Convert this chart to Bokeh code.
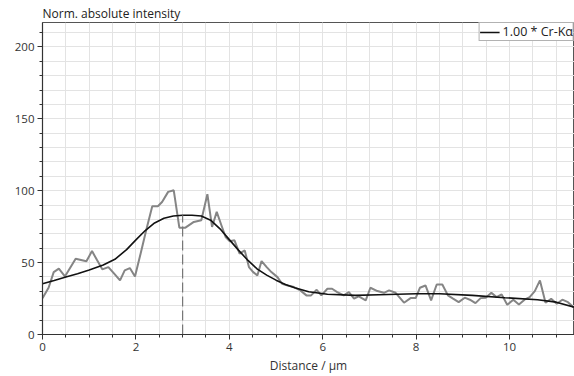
from bokeh.plotting import figure
from bokeh.models import Range1d, SingleIntervalTicker, Legend, LegendItem
from bokeh.embed import file_html
from bokeh.resources import INLINE

# raw measured profile
x_raw = [0.00, 0.13, 0.24, 0.35, 0.48, 0.71, 0.94, 1.06, 1.17, 1.28, 1.41, 1.53, 1.66, 1.76, 1.87, 1.98,
         2.10, 2.22, 2.35, 2.47, 2.56, 2.69, 2.81, 2.93, 3.06, 3.24, 3.40, 3.53, 3.63, 3.73, 3.83, 3.92,
         4.01, 4.11, 4.22, 4.33, 4.42, 4.51, 4.60, 4.69, 4.80, 4.90, 5.03, 5.13, 5.25, 5.38, 5.52, 5.65,
         5.75, 5.87, 5.97, 6.10, 6.20, 6.31, 6.45, 6.56, 6.67, 6.77, 6.92, 7.02, 7.17, 7.31, 7.42, 7.56,
         7.74, 7.88, 7.99, 8.08, 8.20, 8.32, 8.44, 8.56, 8.68, 8.79, 8.91, 9.04, 9.15, 9.27, 9.38, 9.49,
         9.61, 9.72, 9.83, 9.95, 10.08, 10.20, 10.32, 10.43, 10.54, 10.65, 10.77, 10.89, 11.01, 11.13,
         11.25, 11.38]
y_raw = [25.3, 32.5, 43.4, 45.8, 40.4, 52.7, 51.0, 58.0, 51.6, 45.3, 46.9, 42.5, 37.6, 44.6, 46.2, 40.4,
         56.2, 72.5, 89.2, 89.2, 92.2, 99.2, 100.3, 74.3, 74.3, 78.3, 79.4, 97.6, 74.8, 85.3, 76.0, 67.8,
         64.8, 65.5, 56.2, 58.5, 46.9, 43.4, 41.1, 51.1, 46.9, 43.4, 39.9, 35.3, 34.1, 33.0, 30.7, 27.2,
         27.2, 31.1, 27.2, 31.8, 31.8, 29.5, 27.2, 29.5, 24.9, 26.5, 23.7, 32.5, 30.2, 29.0, 30.7, 29.0,
         22.1, 25.3, 25.3, 32.5, 34.1, 23.7, 34.8, 34.8, 27.2, 24.9, 22.5, 25.6, 24.2, 21.8, 25.3, 25.6,
         29.0, 26.0, 27.9, 20.7, 24.2, 20.9, 24.2, 26.0, 30.2, 37.6, 22.1, 24.9, 21.4, 24.2, 22.5, 18.6]

# fitted (smoothed) profile
x_fit = [0.0, 0.25, 0.5, 0.75, 1.0, 1.3, 1.55, 1.8, 2.0, 2.2, 2.4, 2.6, 2.8, 3.0, 3.2, 3.4, 3.6, 3.8,
         4.0, 4.2, 4.4, 4.6, 4.8, 5.0, 5.2, 5.4, 5.7, 6.1, 6.7, 7.2, 8.0, 8.5, 9.2, 9.9, 10.6, 11.0, 11.4]
y_fit = [35.3, 37.6, 40.0, 42.3, 44.8, 48.3, 52.3, 59.0, 65.8, 72.3, 77.6, 80.8, 82.4, 82.9, 82.9, 82.4,
         79.5, 73.5, 66.0, 58.5, 51.5, 45.5, 41.3, 37.8, 34.8, 32.5, 29.7, 28.0, 27.2, 27.6, 28.3, 28.3,
         27.2, 25.6, 24.2, 22.5, 18.8]

marker_x = 3.0
marker_top = 82.9

legend_label = "1.00 * Cr-K\u03b1"
x_title = "Distance / \u00b5m"
y_title = "Norm. absolute intensity"

FONT = "Open Sans"

p = figure(width=574, height=376, output_backend="svg", toolbar_location=None,
           x_range=Range1d(0, 11.39), y_range=Range1d(0, 217),
           min_border_left=42, min_border_right=0, min_border_top=22, min_border_bottom=42)

p.title.text = y_title
p.title.text_font = FONT
p.title.text_font_size = "12px"
p.title.text_font_style = "normal"
p.title.text_color = "#222222"
p.title.align = "left"
p.title.standoff = 2

p.outline_line_color = "#555555"
p.outline_line_width = 1
p.background_fill_color = "white"
p.border_fill_color = "white"

p.xaxis.ticker = SingleIntervalTicker(interval=2, num_minor_ticks=4)
p.yaxis.ticker = SingleIntervalTicker(interval=50, num_minor_ticks=5)
p.xgrid.ticker = p.xaxis.ticker
p.ygrid.ticker = p.yaxis.ticker

for g in (p.xgrid, p.ygrid):
    g.grid_line_color = "#e3e3e3"
    g.grid_line_width = 1
    g.minor_grid_line_color = "#e3e3e3"
    g.minor_grid_line_width = 1

for ax in (p.xaxis, p.yaxis):
    ax.axis_line_color = "#333333"
    ax.axis_line_width = 1.2
    ax.major_tick_line_color = "#333333"
    ax.minor_tick_line_color = "#333333"
    ax.major_tick_out = 5
    ax.major_tick_in = 0
    ax.minor_tick_out = 3
    ax.minor_tick_in = 0
    ax.major_label_text_font = FONT
    ax.major_label_text_font_size = "11.5px"
    ax.major_label_text_color = "#333333"

p.xaxis.axis_label = x_title
p.xaxis.axis_label_text_font = FONT
p.xaxis.axis_label_text_font_size = "12px"
p.xaxis.axis_label_text_font_style = "normal"
p.xaxis.axis_label_text_color = "#333333"
p.xaxis.axis_label_standoff = 3
p.xaxis.major_label_standoff = 3
p.yaxis.major_label_standoff = 3

raw = p.line(x_raw, y_raw, line_color="#858585", line_width=2)
fit = p.line(x_fit, y_fit, line_color="#111111", line_width=1.6)
p.line([marker_x, marker_x], [0, marker_top], line_color="#777777", line_width=1.2, line_dash="10 4")

legend = Legend(items=[LegendItem(label=legend_label, renderers=[fit])],
                location="top_right", orientation="vertical",
                glyph_width=20, glyph_height=10, label_height=10, label_standoff=3,
                padding=0, margin=0, spacing=0,
                label_text_font=FONT, label_text_font_size="12.5px", label_text_color="#222222",
                border_line_color="#666666", border_line_width=1,
                background_fill_color="white", background_fill_alpha=1.0)
p.add_layout(legend)

open("out.html", "w").write(file_html(p, INLINE))
